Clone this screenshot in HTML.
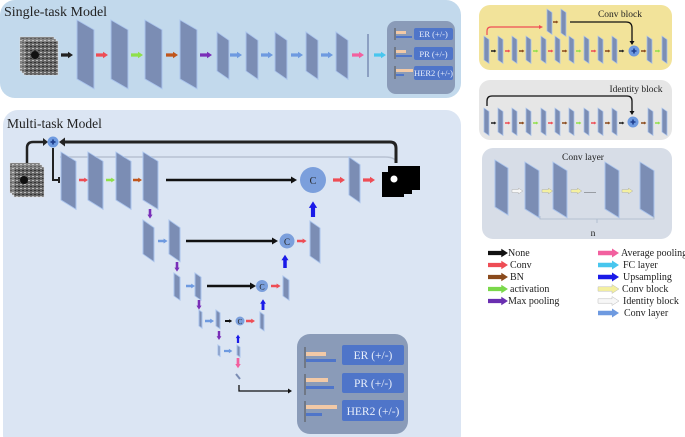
<!DOCTYPE html>
<html><head><meta charset="utf-8"><style>
html,body{margin:0;padding:0;background:#fff;}
svg{display:block;font-family:"Liberation Serif",serif;}
</style></head><body>
<svg width="685" height="437" viewBox="0 0 685 437" xmlns="http://www.w3.org/2000/svg">
<defs>
<path id="ar" d="M0,-1.6 H7 V-3.2 L12,0 L7,3.2 V1.6 H0 Z"/>
<path id="arB" d="M0,-2.2 H14 V-4.5 L21,0 L14,4.5 V2.2 H0 Z"/>
<pattern id="us" width="4" height="4" patternUnits="userSpaceOnUse"><rect width="4" height="4" fill="#666"/><rect width="2" height="1" fill="#bbb"/><rect x="2" y="2" width="2" height="1" fill="#333"/></pattern>
</defs>

<!-- Single-task panel -->
<rect x="0" y="0" width="461" height="98" rx="15" fill="#c2d9ec"/>
<text x="4" y="16" font-size="14" fill="#222">Single-task Model</text>
<g fill="url(#us)" stroke="#ddd" stroke-width="0.5">
<rect x="20" y="37" width="34" height="34"/><rect x="22" y="39" width="34" height="34"/><rect x="24" y="41" width="34" height="34"/>
</g>
<ellipse cx="35" cy="55" rx="4" ry="4" fill="#111"/>
<g fill="#7b8db4" stroke="#a9c3ec" stroke-width="1">
<rect transform="translate(77,20) skewY(30)" width="17" height="59"/>
<rect transform="translate(111,20) skewY(30)" width="17" height="59"/>
<rect transform="translate(145,20) skewY(30)" width="17" height="59"/>
<rect transform="translate(180,20) skewY(30)" width="17" height="59"/>
<rect transform="translate(217,32) skewY(35)" width="12" height="39"/>
<rect transform="translate(246,32) skewY(35)" width="12" height="39"/>
<rect transform="translate(275,32) skewY(35)" width="12" height="39"/>
<rect transform="translate(306,32) skewY(35)" width="12" height="39"/>
<rect transform="translate(336,32) skewY(35)" width="12" height="39"/>
</g>
<line x1="368" y1="34" x2="368" y2="77" stroke="#7b8db4" stroke-width="1.5"/>
<use href="#ar" transform="translate(61,55)" fill="#222"/>
<use href="#ar" transform="translate(96,55)" fill="#ee4d55"/>
<use href="#ar" transform="translate(131,55)" fill="#8fe04a"/>
<use href="#ar" transform="translate(166,55)" fill="#c0561c"/>
<use href="#ar" transform="translate(200,55)" fill="#7a2fb8"/>
<use href="#ar" transform="translate(230,55)" fill="#6e9ae0"/>
<use href="#ar" transform="translate(261,55)" fill="#6e9ae0"/>
<use href="#ar" transform="translate(291,55)" fill="#6e9ae0"/>
<use href="#ar" transform="translate(321,55)" fill="#6e9ae0"/>
<use href="#ar" transform="translate(352,55)" fill="#f2609f"/>
<use href="#ar" transform="translate(374,55)" fill="#48c6ee"/>
<rect x="387" y="21" width="68" height="73" rx="9" fill="#8a9bb8"/>
<g fill="#4f75c9">
<rect x="414" y="28" width="39" height="12" rx="2"/><rect x="414" y="47" width="39" height="13" rx="2"/><rect x="414" y="66" width="39" height="14" rx="2"/>
<rect x="396" y="36" width="16" height="2"/><rect x="396" y="55" width="16" height="2"/><rect x="396" y="74" width="8" height="2"/>
</g>
<g fill="#f2c9a6"><rect x="396" y="31" width="10" height="3"/><rect x="396" y="50" width="10" height="3"/><rect x="396" y="69" width="17" height="3"/></g>
<g stroke="#555" stroke-width="1"><line x1="395" y1="28" x2="395" y2="40"/><line x1="395" y1="47" x2="395" y2="59"/><line x1="395" y1="66" x2="395" y2="79"/></g>
<g fill="#e8eefa" font-size="8.5" text-anchor="middle"><text x="433.5" y="37">ER (+/-)</text><text x="433.5" y="57">PR (+/-)</text><text x="433.5" y="76">HER2 (+/-)</text></g>

<!-- Multi-task panel -->
<rect x="3" y="110" width="458" height="340" rx="15" fill="#dbe5f3"/>
<text x="7" y="128" font-size="13.5" fill="#222">Multi-task Model</text>
<path d="M60,157 H385 Q396,157 396,163" stroke="#b8c2d2" stroke-width="1.5" fill="none"/>
<g fill="url(#us)" stroke="#ddd" stroke-width="0.5">
<rect x="10" y="163" width="30" height="30"/><rect x="12" y="165" width="30" height="30"/><rect x="14" y="167" width="30" height="30"/>
</g>
<ellipse cx="24" cy="180" rx="4" ry="4" fill="#111"/>
<path d="M27,163 V148 Q27,142 33,142 H43" stroke="#222" stroke-width="2.5" fill="none"/>
<path d="M43,138 L48,142 L43,146 Z" fill="#222"/>
<circle cx="53" cy="142" r="5.5" fill="#6e9ae0"/>
<path d="M50.5,142 H55.5 M53,139.5 V144.5" stroke="#1f3f8f" stroke-width="1.8"/>
<path d="M53,148 V180 H59 M59,177 V183" stroke="#222" stroke-width="2" fill="none"/>
<path d="M396,163 V148 Q396,142 390,142 H64" stroke="#222" stroke-width="3" fill="none"/>
<path d="M65,137.5 L59,142 L65,146.5 Z" fill="#222"/>
<g fill="#7b8db4" stroke="#a9c3ec" stroke-width="1">
<rect transform="translate(61,152) skewY(32)" width="15" height="48"/>
<rect transform="translate(88,152) skewY(32)" width="15" height="48"/>
<rect transform="translate(116,152) skewY(32)" width="15" height="48"/>
<rect transform="translate(143,152) skewY(32)" width="15" height="48"/>
<rect transform="translate(349,157) skewY(35)" width="11" height="38"/>
<rect transform="translate(143,220) skewY(35)" width="11" height="34"/>
<rect transform="translate(169,220) skewY(35)" width="11" height="34"/>
<rect transform="translate(310,221) skewY(35)" width="10" height="35"/>
<rect transform="translate(174,273) skewY(35)" width="6" height="23"/>
<rect transform="translate(195,273) skewY(35)" width="6" height="23"/>
<rect transform="translate(283,276) skewY(35)" width="6" height="20"/>
<rect transform="translate(199,310) skewY(35)" width="3" height="16"/>
<rect transform="translate(216,310) skewY(35)" width="4" height="16"/>
<rect transform="translate(260,312) skewY(35)" width="4" height="16"/>
<rect transform="translate(218,345) skewY(35)" width="2" height="10"/>
<rect transform="translate(237,345) skewY(35)" width="3" height="10"/>
</g>
<path d="M236,374 L240,379" stroke="#7b8db4" stroke-width="2"/>
<use href="#ar" transform="translate(79,180) scale(0.75)" fill="#ee4d55"/>
<use href="#ar" transform="translate(106,180) scale(0.75)" fill="#8fe04a"/>
<use href="#ar" transform="translate(133,180) scale(0.75)" fill="#c0561c"/>
<path d="M166,180 H292" stroke="#111" stroke-width="2.5"/><path d="M291,176.5 L297,180 L291,183.5Z" fill="#111"/>
<circle cx="313" cy="180" r="13" fill="#7b9fdc"/><text x="313" y="184" font-size="10" text-anchor="middle" fill="#222">C</text>
<use href="#ar" transform="translate(333,180)" fill="#ee4d55"/>
<use href="#ar" transform="translate(363,180)" fill="#ee4d55"/>
<path d="M382,172 H388 V166 H420 V190 H412 V194 H404 V197 H382 Z" fill="#000"/>
<circle cx="394" cy="179" r="3.5" fill="#fff"/>
<use href="#ar" transform="translate(150,209) rotate(90) scale(0.8)" fill="#7a2fb8"/>
<use href="#ar" transform="translate(158,241) scale(0.8)" fill="#6e9ae0"/>
<path d="M186,241 H272" stroke="#111" stroke-width="2.5"/><path d="M272,237.5 L278,241 L272,244.5Z" fill="#111"/>
<circle cx="287" cy="241" r="7.5" fill="#7b9fdc"/><text x="287" y="245" font-size="9" text-anchor="middle" fill="#222">C</text>
<use href="#ar" transform="translate(297,241) scale(0.8)" fill="#ee4d55"/>
<use href="#ar" transform="translate(313,217) rotate(-90) scale(1.3)" fill="#1a1ae8"/>
<use href="#ar" transform="translate(177,262) rotate(90) scale(0.8)" fill="#7a2fb8"/>
<use href="#ar" transform="translate(186,286) scale(0.75)" fill="#6e9ae0"/>
<path d="M207,286 H250" stroke="#111" stroke-width="2.5"/><path d="M250,282.5 L256,286 L250,289.5Z" fill="#111"/>
<circle cx="262" cy="286" r="6" fill="#7b9fdc"/><text x="262" y="289.5" font-size="8" text-anchor="middle" fill="#222">C</text>
<use href="#ar" transform="translate(271,286) scale(0.8)" fill="#ee4d55"/>
<use href="#ar" transform="translate(285,268) rotate(-90) scale(1.1)" fill="#1a1ae8"/>
<use href="#ar" transform="translate(199,300) rotate(90) scale(0.8)" fill="#7a2fb8"/>
<use href="#ar" transform="translate(205,321) scale(0.75)" fill="#6e9ae0"/>
<use href="#ar" transform="translate(225,321) scale(0.6)" fill="#111"/>
<circle cx="240" cy="321" r="4.5" fill="#7b9fdc"/><text x="240" y="324" font-size="7" text-anchor="middle" fill="#222">C</text>
<use href="#ar" transform="translate(246,321) scale(0.75)" fill="#ee4d55"/>
<use href="#ar" transform="translate(263,310) rotate(-90) scale(0.9)" fill="#1a1ae8"/>
<use href="#ar" transform="translate(219,331) rotate(90) scale(0.75)" fill="#7a2fb8"/>
<use href="#ar" transform="translate(224,351) scale(0.7)" fill="#6e9ae0"/>
<use href="#ar" transform="translate(238,343) rotate(-90) scale(0.7)" fill="#1a1ae8"/>
<use href="#ar" transform="translate(238,358) rotate(90) scale(0.85)" fill="#f2609f"/>
<path d="M239,385 V391 H288" stroke="#111" stroke-width="1.3" fill="none"/><path d="M288,388.5 L292,391 L288,393.5Z" fill="#111"/>
<rect x="297" y="334" width="111" height="100" rx="13" fill="#8a9bb8"/>
<g fill="#4f75c9">
<rect x="342" y="345" width="62" height="20" rx="2"/><rect x="342" y="373" width="62" height="20" rx="2"/><rect x="342" y="400" width="62" height="21" rx="2"/>
<rect x="306" y="359" width="30" height="3"/><rect x="306" y="386" width="28" height="3"/><rect x="306" y="413" width="16" height="3"/>
</g>
<g fill="#f2c9a6"><rect x="306" y="352" width="20" height="4"/><rect x="306" y="378" width="22" height="4"/><rect x="306" y="405" width="31" height="4"/></g>
<g stroke="#555" stroke-width="1"><line x1="305" y1="347" x2="305" y2="368"/><line x1="305" y1="374" x2="305" y2="395"/><line x1="305" y1="401" x2="305" y2="422"/></g>
<g fill="#e8eefa" font-size="11.5" text-anchor="middle"><text x="373" y="359">ER (+/-)</text><text x="373" y="387">PR (+/-)</text><text x="373" y="415">HER2 (+/-)</text></g>

<!-- Conv block -->
<rect x="479" y="5" width="193" height="65" rx="11" fill="#f2e39a"/>
<text x="620" y="17" font-size="9.5" fill="#222" text-anchor="middle">Conv block</text>
<path d="M487,35 V31 Q487,27 491,27 H539" stroke="#ee4d55" stroke-width="1.2" fill="none"/><path d="M539,25 L543,27 L539,29Z" fill="#ee4d55"/>
<path d="M570,22 H626 Q632,22 632,28 V42" stroke="#111" stroke-width="1.3" fill="none"/><path d="M629.5,41 L632,45 L634.5,41Z" fill="#111"/>
<g fill="#7b8db4" stroke="#a9c3ec" stroke-width="0.8">
<rect transform="translate(547,9) skewY(35)" width="5" height="22"/>
<rect transform="translate(561,9) skewY(35)" width="5" height="24"/>
<rect transform="translate(484,36) skewY(35)" width="5" height="24"/>
<rect transform="translate(498,36) skewY(35)" width="5" height="24"/>
<rect transform="translate(512,36) skewY(35)" width="5" height="24"/>
<rect transform="translate(526,36) skewY(35)" width="5" height="24"/>
<rect transform="translate(541,36) skewY(35)" width="5" height="24"/>
<rect transform="translate(555,36) skewY(35)" width="5" height="24"/>
<rect transform="translate(569,36) skewY(35)" width="5" height="24"/>
<rect transform="translate(584,36) skewY(35)" width="5" height="24"/>
<rect transform="translate(598,36) skewY(35)" width="5" height="24"/>
<rect transform="translate(612,36) skewY(35)" width="5" height="24"/>
<rect transform="translate(647,36) skewY(35)" width="5" height="24"/>
<rect transform="translate(662,36) skewY(35)" width="5" height="24"/>
</g>
<g>
<use href="#ar" transform="translate(491,51) scale(0.45)" fill="#222"/>
<use href="#ar" transform="translate(505,51) scale(0.45)" fill="#ee4d55"/>
<use href="#ar" transform="translate(519,51) scale(0.45)" fill="#8a4a1c"/>
<use href="#ar" transform="translate(533,51) scale(0.45)" fill="#8fe04a"/>
<use href="#ar" transform="translate(548,51) scale(0.45)" fill="#ee4d55"/>
<use href="#ar" transform="translate(562,51) scale(0.45)" fill="#8a4a1c"/>
<use href="#ar" transform="translate(576,51) scale(0.45)" fill="#8fe04a"/>
<use href="#ar" transform="translate(591,51) scale(0.45)" fill="#ee4d55"/>
<use href="#ar" transform="translate(605,51) scale(0.45)" fill="#8a4a1c"/>
<use href="#ar" transform="translate(619,51) scale(0.45)" fill="#222"/>
<use href="#ar" transform="translate(641,51) scale(0.45)" fill="#8a4a1c"/>
<use href="#ar" transform="translate(655,51) scale(0.45)" fill="#8fe04a"/>
<use href="#ar" transform="translate(553,22) scale(0.45)" fill="#8a4a1c"/>
</g>
<circle cx="634" cy="51" r="5.5" fill="#6e9ae0"/><path d="M631.5,51 H636.5 M634,48.5 V53.5" stroke="#1f3f8f" stroke-width="1.6"/>

<!-- Identity block -->
<rect x="479" y="80" width="193" height="60" rx="11" fill="#e6e6e6"/>
<text x="636" y="92" font-size="9.5" fill="#222" text-anchor="middle">Identity block</text>
<path d="M487,106 V101 Q487,96 492,96 H627 Q632,96 632,101 V112" stroke="#111" stroke-width="1.3" fill="none"/><path d="M629.5,111 L632,115 L634.5,111Z" fill="#111"/>
<g fill="#7b8db4" stroke="#a9c3ec" stroke-width="0.8">
<rect transform="translate(484,108) skewY(35)" width="5" height="24"/>
<rect transform="translate(498,108) skewY(35)" width="5" height="24"/>
<rect transform="translate(512,108) skewY(35)" width="5" height="24"/>
<rect transform="translate(526,108) skewY(35)" width="5" height="24"/>
<rect transform="translate(541,108) skewY(35)" width="5" height="24"/>
<rect transform="translate(555,108) skewY(35)" width="5" height="24"/>
<rect transform="translate(569,108) skewY(35)" width="5" height="24"/>
<rect transform="translate(584,108) skewY(35)" width="5" height="24"/>
<rect transform="translate(598,108) skewY(35)" width="5" height="24"/>
<rect transform="translate(612,108) skewY(35)" width="5" height="24"/>
<rect transform="translate(648,108) skewY(35)" width="5" height="24"/>
<rect transform="translate(662,108) skewY(35)" width="5" height="24"/>
</g>
<g>
<use href="#ar" transform="translate(491,123) scale(0.45)" fill="#222"/>
<use href="#ar" transform="translate(505,123) scale(0.45)" fill="#ee4d55"/>
<use href="#ar" transform="translate(519,123) scale(0.45)" fill="#8a4a1c"/>
<use href="#ar" transform="translate(533,123) scale(0.45)" fill="#8fe04a"/>
<use href="#ar" transform="translate(548,123) scale(0.45)" fill="#ee4d55"/>
<use href="#ar" transform="translate(562,123) scale(0.45)" fill="#8a4a1c"/>
<use href="#ar" transform="translate(576,123) scale(0.45)" fill="#8fe04a"/>
<use href="#ar" transform="translate(591,123) scale(0.45)" fill="#ee4d55"/>
<use href="#ar" transform="translate(605,123) scale(0.45)" fill="#8a4a1c"/>
<use href="#ar" transform="translate(619,123) scale(0.45)" fill="#222"/>
<use href="#ar" transform="translate(641,123) scale(0.45)" fill="#8a4a1c"/>
<use href="#ar" transform="translate(655,123) scale(0.45)" fill="#8fe04a"/>
</g>
<circle cx="633" cy="122" r="5.5" fill="#6e9ae0"/><path d="M630.5,122 H635.5 M633,119.5 V124.5" stroke="#1f3f8f" stroke-width="1.6"/>

<!-- Conv layer -->
<rect x="482" y="148" width="190" height="91" rx="11" fill="#d7dde7"/>
<text x="583" y="160" font-size="9.5" fill="#222" text-anchor="middle">Conv layer</text>
<g fill="#7b8db4" stroke="#a9c3ec" stroke-width="1">
<rect transform="translate(495,160) skewY(32)" width="13" height="47"/>
<rect transform="translate(525,162) skewY(32)" width="14" height="47"/>
<rect transform="translate(553,162) skewY(32)" width="14" height="47"/>
<rect transform="translate(605,162) skewY(32)" width="14" height="47"/>
<rect transform="translate(640,162) skewY(32)" width="14" height="47"/>
</g>
<use href="#ar" transform="translate(512,191) scale(0.9)" fill="#f7f7f7" stroke="#aaa" stroke-width="0.5"/>
<use href="#ar" transform="translate(542,191) scale(0.9)" fill="#f4f0a0" stroke="#aaa" stroke-width="0.5"/>
<use href="#ar" transform="translate(571,191) scale(0.9)" fill="#f4f0a0" stroke="#aaa" stroke-width="0.5"/>
<text x="584" y="193" font-size="8" fill="#333">......</text>
<use href="#ar" transform="translate(622,191) scale(0.9)" fill="#f4f0a0" stroke="#aaa" stroke-width="0.5"/>
<path d="M540,216 V219 H654 V216 M597,219 V223" stroke="#aab8cc" stroke-width="0.8" fill="none"/>
<text x="593" y="236" font-size="9.5" fill="#222" text-anchor="middle">n</text>

<!-- Legend -->
<g font-size="10" fill="#222">
<use href="#arB" transform="translate(488,253) scale(0.95)" fill="#111"/><text x="508" y="256">None</text>
<use href="#arB" transform="translate(488,265) scale(0.95)" fill="#ee4d55"/><text x="510" y="268">Conv</text>
<use href="#arB" transform="translate(488,277) scale(0.95)" fill="#8a4a1c"/><text x="510" y="280">BN</text>
<use href="#arB" transform="translate(488,289) scale(0.95)" fill="#7ad84a"/><text x="510" y="292">activation</text>
<use href="#arB" transform="translate(488,301) scale(0.95)" fill="#6a2fb0"/><text x="508" y="304">Max pooling</text>
<use href="#arB" transform="translate(598,253)" fill="#f2609f"/><text x="621" y="256">Average pooling</text>
<use href="#arB" transform="translate(598,265)" fill="#48c6ee"/><text x="623" y="268">FC layer</text>
<use href="#arB" transform="translate(598,277)" fill="#1a1ae8"/><text x="623" y="280">Upsampling</text>
<use href="#arB" transform="translate(598,289)" fill="#f4f0a0" stroke="#bbb" stroke-width="0.5"/><text x="622" y="292">Conv block</text>
<use href="#arB" transform="translate(598,301)" fill="#f7f7f7" stroke="#bbb" stroke-width="0.5"/><text x="623" y="304">Identity block</text>
<use href="#arB" transform="translate(598,313)" fill="#6e9ae0"/><text x="624" y="316">Conv layer</text>
</g>
</svg>
</body></html>
